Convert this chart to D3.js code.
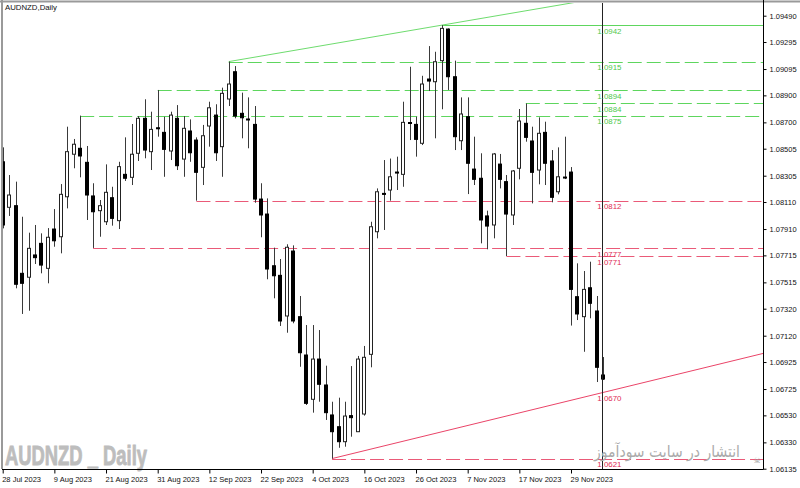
<!DOCTYPE html>
<html><head><meta charset="utf-8">
<script src="https://cdn.jsdelivr.net/npm/d3@7/dist/d3.min.js"></script>
<style>body{margin:0;background:#fff}svg{display:block}</style>
</head><body>
<svg id="c" width="800" height="488"></svg>
<script>
// ---- data (daily AUDNZD candles, 28 Jul 2023 .. 6 Dec 2023) ----
const opens = [1.08408,1.08071,1.08083,1.07582,1.07553,1.07718,1.07804,1.07619,1.07910,1.07853,
1.08149,1.08464,1.08508,1.08404,1.08155,1.08046,1.07964,1.08142,1.07972,1.08315,
1.08293,1.08471,1.08730,1.08483,1.08660,1.08626,1.08488,1.08730,1.08428,1.08636,
1.08569,1.08367,1.08673,1.08754,1.08520,1.08873,1.09075,1.08767,1.08725,1.08685,
1.08132,1.08021,1.07638,1.07567,1.07266,1.07747,1.07261,1.06977,1.06649,1.06947,
1.06755,1.06533,1.06446,1.06335,1.06528,1.06409,1.06540,1.06982,1.07890,1.08174,
1.08199,1.08332,1.08315,1.08699,1.08685,1.08545,1.09021,1.09001,1.09157,1.09391,
1.09038,1.08564,1.08742,1.08354,1.08286,1.08007,1.07940,1.08391,1.08261,1.08014,
1.08360,1.08693,1.08562,1.08347,1.08626,1.08414,1.08186,1.08295,1.08332,1.07409,
1.07261,1.07475,1.07303,1.06829];
const highs = [1.08515,1.08310,1.08261,1.08001,1.07883,1.07940,1.07878,1.07917,1.08058,1.08243,
1.08668,1.08577,1.08750,1.08525,1.08249,1.08125,1.08389,1.08223,1.08408,1.08589,
1.08688,1.08747,1.08871,1.08779,1.08940,1.08742,1.08779,1.08828,1.08747,1.08722,
1.08589,1.08681,1.08853,1.08834,1.08957,1.09150,1.09117,1.08920,1.08885,1.08821,
1.08249,1.08137,1.07772,1.07688,1.07797,1.07789,1.07414,1.07199,1.07199,1.07162,
1.06898,1.06631,1.06661,1.06631,1.06895,1.06970,1.07044,1.07964,1.08211,1.08421,
1.08432,1.08446,1.08853,1.09112,1.08742,1.09045,1.09265,1.09223,1.09420,1.09396,
1.09157,1.08885,1.08885,1.08594,1.08471,1.08046,1.08473,1.08466,1.08310,1.08347,
1.08799,1.08840,1.08668,1.08737,1.08705,1.08495,1.08515,1.08594,1.08369,1.07656,
1.07599,1.07668,1.07414,1.06962];
const lows = [1.07915,1.08007,1.07471,1.07281,1.07305,1.07651,1.07582,1.07508,1.07779,1.07730,
1.08063,1.08360,1.08293,1.07977,1.07770,1.07853,1.07940,1.07935,1.07910,1.08266,
1.08236,1.08414,1.08434,1.08347,1.08594,1.08297,1.08421,1.08347,1.08297,1.08408,
1.08120,1.08236,1.08520,1.08414,1.08297,1.08821,1.08730,1.08582,1.08508,1.08105,
1.07849,1.07538,1.07397,1.07192,1.07142,1.07212,1.06890,1.06607,1.06550,1.06631,
1.06496,1.06210,1.06290,1.06298,1.06372,1.06407,1.06528,1.06886,1.07841,1.07903,
1.08120,1.08199,1.08223,1.08569,1.08446,1.08532,1.08932,1.08582,1.08797,1.08940,
1.08495,1.08495,1.08169,1.08236,1.07804,1.07760,1.07841,1.08211,1.07710,1.07940,
1.08278,1.08557,1.08100,1.08241,1.08236,1.08108,1.08167,1.08280,1.07195,1.07236,
1.07001,1.07249,1.06777,1.06792];
const closes = [1.07940,1.08162,1.07501,1.07508,1.07767,1.07698,1.07643,1.07849,1.07823,1.08167,
1.08483,1.08538,1.08451,1.08162,1.08038,1.08083,1.08182,1.07989,1.08372,1.08286,
1.08464,1.08730,1.08495,1.08648,1.08653,1.08500,1.08754,1.08379,1.08656,1.08475,
1.08330,1.08601,1.08808,1.08475,1.08915,1.08984,1.08747,1.08734,1.08720,1.08132,
1.08014,1.07614,1.07564,1.07229,1.07775,1.07229,1.06994,1.06619,1.06947,1.06760,
1.06550,1.06409,1.06335,1.06525,1.06513,1.06947,1.06960,1.07927,1.08186,1.08169,
1.08297,1.08329,1.08700,1.08695,1.08574,1.08984,1.09006,1.09149,1.09396,1.09038,
1.08594,1.08762,1.08397,1.08278,1.07977,1.07932,1.08466,1.08278,1.08021,1.08340,
1.08710,1.08589,1.08330,1.08619,1.08397,1.08145,1.08297,1.08291,1.07463,1.07281,
1.07463,1.07360,1.06886,1.06799];

const xTickIdx = [0,8,16,24,32,40,48,56,64,72,80,88];
const xTickLabels = ["28 Jul 2023","9 Aug 2023","21 Aug 2023","31 Aug 2023","12 Sep 2023","22 Sep 2023",
  "4 Oct 2023","16 Oct 2023","26 Oct 2023","7 Nov 2023","17 Nov 2023","29 Nov 2023"];
const yTicks = [1.09490,1.09295,1.09095,1.08900,1.08700,1.08505,1.08305,1.08110,1.07910,
  1.07715,1.07515,1.07320,1.07120,1.06925,1.06725,1.06530,1.06330,1.06135];

// horizontal levels (price, bar index where the line starts)
const greenLevels = [1.0942,1.0915,1.0894,1.0884,1.0875];
const greenLevelStart = [68,35,24,81,12];
const greenLevelSolid = [true,false,false,false,false];
const redLevels = [1.0812,1.0777,1.0771,1.0621];
const redLevelStart = [30,14,78,51];
// trend lines: [barIndex, price] anchor pairs
const greenTrend = [[35,1.0915],[68,1.0942]];
const redTrend = [[51,1.0621],[93,1.0670]];
const redTrendLabel = "1.0670";
const vlineIdx = 93;

// ---- drawing ----
const svg = d3.select("#c");
const W = 800, H = 488;
const plotL = 3, plotR = 763, plotT = 3, plotB = 469;

const x = d3.scaleLinear().domain([0, 93]).range([2.7, 603.3]);
const y = d3.scaleLinear().domain([1.06135, 1.09490]).range([468.7, 15.7]);

svg.append("rect").attr("width", W).attr("height", H).attr("fill", "#fff");
svg.append("defs").append("clipPath").attr("id", "clip")
  .append("rect").attr("x", plotL).attr("y", plotT).attr("width", plotR - plotL).attr("height", plotB - plotT);

const plot = svg.append("g").attr("clip-path", "url(#clip)");

// watermarks
svg.append("text").attr("x", 5).attr("y", 465)
  .attr("font-family", "Liberation Sans, Arial, sans-serif").attr("font-weight", "bold")
  .attr("font-size", 27).attr("fill", "#bdbdbd").attr("stroke", "#bdbdbd").attr("stroke-width", 0.9)
  .attr("textLength", 142).attr("lengthAdjust", "spacingAndGlyphs")
  .text("AUDNZD _ Daily");
// Persian watermark: measured and squeezed to fit 594..740
{
  const t = svg.append("text").attr("x", 0).attr("y", 0).attr("text-anchor", "middle")
    .attr("font-family", "DejaVu Sans, sans-serif").attr("font-size", 16).attr("fill", "#ababab")
    .text("انتشار در سایت سودآموز");
  const len = t.node().getComputedTextLength() || 146;
  const sx = Math.min(1, 146 / len);
  t.attr("transform", `translate(667,457) scale(${sx},1)`);
}
svg.append("text").attr("x", 757).attr("y", 463).attr("text-anchor", "middle")
  .attr("font-family", "DejaVu Sans, sans-serif").attr("font-size", 8).attr("fill", "#999")
  .text("☠");

// level lines
function levelLine(price, start, color, solid) {
  plot.append("line")
    .attr("x1", x(start)).attr("x2", plotR)
    .attr("y1", Math.round(y(price)) + 0.5).attr("y2", Math.round(y(price)) + 0.5)
    .attr("stroke", color).attr("stroke-width", 1)
    .attr("stroke-dasharray", solid ? null : "14,5");
}
greenLevels.forEach((p, i) => levelLine(p, greenLevelStart[i], "#5ed65e", greenLevelSolid[i]));
redLevels.forEach((p, i) => levelLine(p, redLevelStart[i], "#ea5a78", false));

// trend lines extended to the right edge
function trend(pts, color) {
  const [a, b] = pts;
  const slope = (b[1] - a[1]) / (b[0] - a[0]);
  const idxR = x.invert(plotR);
  const pR = a[1] + slope * (idxR - a[0]);
  plot.append("line")
    .attr("x1", x(a[0])).attr("y1", y(a[1]))
    .attr("x2", plotR).attr("y2", y(pR))
    .attr("stroke", color).attr("stroke-width", 1);
}
trend(greenTrend, "#6edc6e");
trend(redTrend, "#ea4468");

// candles
const data = opens.map((o, i) => ({i, o, h: highs[i], l: lows[i], c: closes[i]}));
const cg = plot.append("g");
cg.selectAll("line.wick").data(data).join("line").attr("class", "wick")
  .attr("x1", d => Math.round(x(d.i)) + 0.5).attr("x2", d => Math.round(x(d.i)) + 0.5)
  .attr("y1", d => y(d.h)).attr("y2", d => y(d.l))
  .attr("stroke", "#3a3a3a").attr("stroke-width", 1);
cg.selectAll("rect.body").data(data).join("rect").attr("class", "body")
  .attr("x", d => Math.round(x(d.i)) - 1.5)
  .attr("width", 4 - 1)
  .attr("y", d => Math.min(y(d.o), y(d.c)))
  .attr("height", d => Math.max(1, Math.abs(y(d.o) - y(d.c))))
  .attr("fill", d => d.c >= d.o ? "#fff" : "#000")
  .attr("stroke", d => d.c >= d.o ? "#222" : "#000")
  .attr("stroke-width", 1);

// vertical line
plot.append("line")
  .attr("x1", Math.round(x(vlineIdx)) - 0.5).attr("x2", Math.round(x(vlineIdx)) - 0.5)
  .attr("y1", 0).attr("y2", plotB)
  .attr("stroke", "#222").attr("stroke-width", 1);

// level labels
const labX = x(vlineIdx) - 6;
function label(price, txt, color) {
  svg.append("text").attr("x", labX).attr("y", y(price) + 8.6)
    .attr("font-family", "Liberation Sans, Arial, sans-serif").attr("font-size", 7.9)
    .attr("fill", color).text(txt);
}
greenLevels.forEach(p => label(p, p.toFixed(4), "#4fc94f"));
redLevels.forEach(p => label(p, p.toFixed(4), "#e02c55"));
{
  const [a, b] = redTrend;
  const slope = (b[1] - a[1]) / (b[0] - a[0]);
  label(a[1] + slope * (vlineIdx - a[0]), redTrendLabel, "#e02c55");
}

// frame
svg.append("line").attr("x1", 0).attr("x2", W).attr("y1", 1.5).attr("y2", 1.5).attr("stroke", "#9a9a9a").attr("stroke-width", 2);
svg.append("line").attr("x1", 2).attr("x2", 2).attr("y1", 0).attr("y2", plotB).attr("stroke", "#9a9a9a").attr("stroke-width", 2);

// axes
const yAxis = d3.axisRight(y).tickValues(yTicks).tickFormat(d3.format(".5f")).tickSize(3).tickPadding(3);
const gy = svg.append("g").attr("transform", `translate(${plotR + 0.5},0)`).call(yAxis);
gy.select(".domain").attr("d", `M0,0V${plotB + 0.5}`).attr("stroke", "#000");
gy.selectAll("text").attr("font-family", "Liberation Sans, Arial, sans-serif").attr("font-size", 7.5).attr("fill", "#111");

const xAxis = d3.axisBottom(x).tickValues(xTickIdx).tickFormat((d, i) => xTickLabels[i]).tickSize(4).tickPadding(3);
const gx = svg.append("g").attr("transform", `translate(0,${plotB + 0.5})`).call(xAxis);
gx.select(".domain").attr("d", `M2,0H${plotR + 0.5}`).attr("stroke", "#000");
gx.selectAll("text").attr("text-anchor", "start").attr("dx", -1)
  .attr("font-family", "Liberation Sans, Arial, sans-serif").attr("font-size", 7.5).attr("fill", "#111");

// title
svg.append("text").attr("x", 5).attr("y", 10)
  .attr("font-family", "Liberation Sans, Arial, sans-serif").attr("font-size", 7.8).attr("fill", "#111")
  .text("AUDNZD,Daily");
</script>
</body></html>
